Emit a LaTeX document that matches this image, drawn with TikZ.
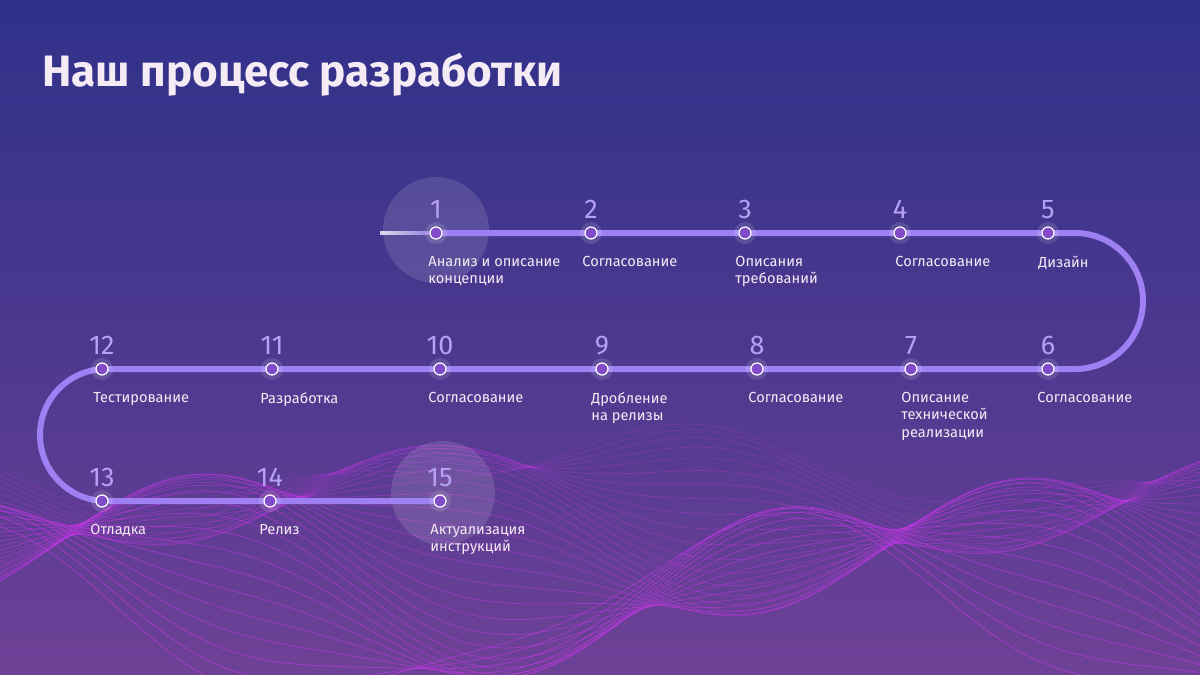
\documentclass[tikz,border=0pt]{standalone}
\usepackage{fontspec}
\setmainfont{Fira Sans}
\begin{document}
\begin{tikzpicture}[x=0.5pt,y=-0.5pt,
  lbl/.style={anchor=north west,align=left,text=white!92!violet,font=\fontsize{7.3}{8.6}\selectfont,inner sep=0pt},
  num/.style={anchor=south,text=track!75!white,font=\fontsize{13.5}{13.5}\selectfont,inner sep=0pt},
  dot/.style={circle,draw=white,fill=violet!60!blue!70!white,line width=0.6pt,minimum size=6pt,inner sep=0pt},
  halo/.style={circle,fill=white,fill opacity=0.12,minimum size=11pt,inner sep=0pt}]
\definecolor{bgA}{HTML}{6E4196}
\definecolor{bgB}{HTML}{30318A}
\definecolor{track}{HTML}{9E80F2}
\definecolor{wave}{HTML}{B04FE0}
\shade[shading angle=235,top color=bgB,bottom color=bgA,middle color=bgB!55!bgA] (0,0) rectangle (1200,675);
\useasboundingbox (0,0) rectangle (1200,675);
% waves
\foreach \i in {0,...,34}{
  \pgfmathsetmacro{\ph}{\i*9}
  \pgfmathsetmacro{\am}{30+\i*1.6}
  \pgfmathsetmacro{\base}{470+\i*4.2}
  \pgfmathsetmacro{\op}{0.25+0.012*\i}
  \draw[wave!70!magenta,line width=0.35pt,opacity=\op] plot[domain=0:1200,samples=60,smooth] (\x,{\base+\am*sin(\x*0.42+\ph)+18*sin(\x*0.9-\ph*1.5)});
}
% halos
\fill[white,opacity=0.12] (436,230) circle (53);
\fill[white,opacity=0.12] (443,493) circle (52);
% track
\shade[left color=bgB!0,right color=track,opacity=0.8] (380,231.5) rectangle (436,234.5);
\coordinate (s) at (436,233);
\coordinate (e) at (440,501);
\draw[track,line width=3pt] (s) -- (1075,233) arc[start angle=-90,end angle=90,radius=68] -- (106,369) arc[start angle=-90,end angle=-270,radius=66] -- (e);
% title
\node[anchor=west,text=white!92!violet,font=\fontsize{22}{22}\selectfont\bfseries,inner sep=0pt] (title) at (42,75) {Наш процесс разработки};
% nodes
\foreach \n/\x/\y/\lx/\t in {
 1/436/233/428/{Анализ и описание\\концепции},
 2/591/233/582/{Согласование},
 3/745/233/735/{Описания\\требований},
 4/900/233/895/{Согласование},
 5/1048/233/1038/{Дизайн},
 6/1048/369/1037/{Согласование},
 7/911/369/901/{Описание\\технической\\реализации},
 8/757/369/748/{Согласование},
 9/602/369/591/{Дробление\\на релизы},
 10/440/369/428/{Согласование},
 11/272/369/260/{Разработка},
 12/102/369/93/{Тестирование},
 13/102/501/90/{Отладка},
 14/270/501/259/{Релиз},
 15/440/501/430/{Актуализация\\инструкций}}{
  \node[halo] at (\x,\y) {};
  \node[dot] (d\n) at (\x,\y) {};
  \node[num] (n\n) at (\x,\y-14) {\n};
  \node[lbl] (l\n) at (\lx,\y+23) {\t};
}
\end{tikzpicture}
\end{document}
